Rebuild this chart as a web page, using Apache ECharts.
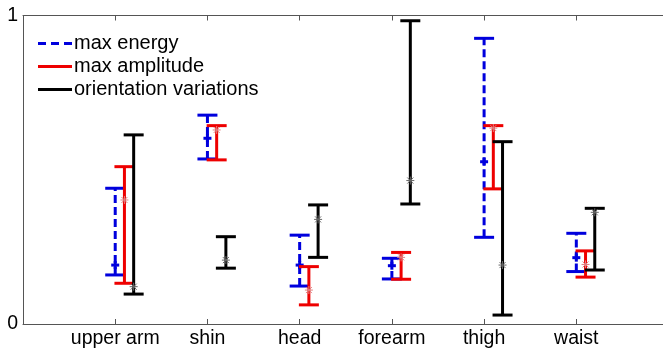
<!DOCTYPE html>
<html>
<head>
<meta charset="utf-8">
<script src="https://cdn.jsdelivr.net/npm/echarts@6/dist/echarts.min.js"></script>
<style>
    html, body { margin: 0; padding: 0; background: #fff; }
    #chart { width: 663px; height: 349px; }
</style>
</head>
<body>
<div id="chart"></div>
<script>
var categories = ['upper arm', 'shin', 'head', 'forearm', 'thigh', 'waist'];

// max energy (blue, dashed)
var energyLow  = [0.159, 0.535, 0.123, 0.146, 0.281, 0.170];
var energyMid  = [0.191, 0.602, 0.191, 0.189, 0.526, 0.215];
var energyHigh = [0.440, 0.677, 0.288, 0.213, 0.926, 0.294];

// max amplitude (red)
var amplitudeLow  = [0.132, 0.532, 0.062, 0.145, 0.438, 0.152];
var amplitudeMid  = [0.402, 0.629, 0.110, 0.216, 0.635, 0.193];
var amplitudeHigh = [0.510, 0.643, 0.186, 0.232, 0.643, 0.237];

// orientation variations (black)
var orientLow  = [0.097, 0.181, 0.216, 0.389, 0.029, 0.175];
var orientMid  = [0.121, 0.207, 0.339, 0.465, 0.191, 0.362];
var orientHigh = [0.613, 0.283, 0.386, 0.983, 0.591, 0.375];

var yTicks = ['0', '1'];

var FONT = '"Liberation Sans", Arial, sans-serif';

function buildData(low, mid, high, shift) {
    var out = [];
    for (var i = 0; i < categories.length; i++) {
        out.push([i + 1 + shift, low[i], mid[i], high[i]]);
    }
    return out;
}

function errorBarRenderer(opts) {
    return function (params, api) {
        var x = api.value(0);
        var lo = api.coord([x, api.value(1)]);
        var md = api.coord([x, api.value(2)]);
        var hi = api.coord([x, api.value(3)]);
        var cap = 10;
        var children = [
            {
                type: 'line',
                shape: { x1: lo[0], y1: lo[1], x2: hi[0], y2: hi[1] },
                style: { stroke: opts.color, lineWidth: 3, lineDash: opts.dash || null }
            },
            {
                type: 'line',
                shape: { x1: lo[0] - cap, y1: lo[1], x2: lo[0] + cap, y2: lo[1] },
                style: { stroke: opts.color, lineWidth: 3 }
            },
            {
                type: 'line',
                shape: { x1: hi[0] - cap, y1: hi[1], x2: hi[0] + cap, y2: hi[1] },
                style: { stroke: opts.color, lineWidth: 3 }
            }
        ];
        if (opts.plus) {
            children.push({
                type: 'line',
                shape: { x1: md[0] - 4, y1: md[1], x2: md[0] + 4, y2: md[1] },
                style: { stroke: opts.color, lineWidth: 3 }
            });
            children.push({
                type: 'line',
                shape: { x1: md[0], y1: md[1] - 4, x2: md[0], y2: md[1] + 4 },
                style: { stroke: opts.color, lineWidth: 3 }
            });
        } else {
            var s = 4;
            var d = 3;
            children.push(
                { type: 'line', shape: { x1: md[0] - s, y1: md[1], x2: md[0] + s, y2: md[1] },
                  style: { stroke: opts.markColor, lineWidth: 1 } },
                { type: 'line', shape: { x1: md[0], y1: md[1] - s, x2: md[0], y2: md[1] + s },
                  style: { stroke: opts.markColor, lineWidth: 1 } },
                { type: 'line', shape: { x1: md[0] - d, y1: md[1] - d, x2: md[0] + d, y2: md[1] + d },
                  style: { stroke: opts.markColor, lineWidth: 1 } },
                { type: 'line', shape: { x1: md[0] - d, y1: md[1] + d, x2: md[0] + d, y2: md[1] - d },
                  style: { stroke: opts.markColor, lineWidth: 1 } }
            );
        }
        return { type: 'group', children: children };
    };
}

var chart = echarts.init(document.getElementById('chart'));

var axisLineStyle = { color: '#555', width: 1 };

// the original figure is cropped just short of x = 7
var xMax = 6.94;

chart.setOption({
    animation: false,
    backgroundColor: '#fff',
    grid: { left: 23, right: 0, top: 15.5, bottom: 25, outerBoundsMode: 'none' },
    legend: {
        orient: 'vertical',
        left: 38,
        top: 32,
        itemWidth: 34,
        itemHeight: 3,
        itemGap: 0,
        padding: 0,
        selectedMode: false,
        textStyle: { fontFamily: FONT, fontSize: 20, color: '#000', lineHeight: 23, padding: [0, 0, 0, -3] },
        data: [
            { name: 'max energy', icon: 'path://M0,0h8v3h-8z M13,0h8v3h-8z M26,0h8v3h-8z' },
            { name: 'max amplitude', icon: 'rect' },
            { name: 'orientation variations', icon: 'rect' }
        ]
    },
    xAxis: [
        {
            type: 'value',
            min: 0,
            max: xMax,
            interval: 1,
            position: 'bottom',
            splitLine: { show: false },
            axisLine: { lineStyle: axisLineStyle },
            axisTick: { inside: true, length: 5, lineStyle: axisLineStyle,
                        customValues: [1, 2, 3, 4, 5, 6] },
            axisLabel: {
                margin: 5,
                fontFamily: FONT,
                fontSize: 19.5,
                color: '#000',
                formatter: function (v) {
                    return categories[v - 1] || '';
                }
            }
        },
        {
            type: 'value',
            min: 0,
            max: xMax,
            interval: 1,
            position: 'top',
            splitLine: { show: false },
            axisLine: { lineStyle: axisLineStyle },
            axisTick: { inside: true, length: 5, lineStyle: axisLineStyle,
                        customValues: [1, 2, 3, 4, 5, 6] },
            axisLabel: { show: false }
        }
    ],
    yAxis: {
        type: 'value',
        min: 0,
        max: 1,
        interval: 1,
        splitLine: { show: false },
        axisLine: { show: true, lineStyle: axisLineStyle },
        axisTick: { show: false },
        axisLabel: {
            margin: 5,
            fontFamily: FONT,
            fontSize: 19.5,
            color: '#000',
            formatter: function (v) {
                return yTicks[v];
            }
        }
    },
    series: [
        {
            name: 'max energy',
            type: 'custom',
            itemStyle: { color: '#0000dd' },
            clip: false,
            renderItem: errorBarRenderer({ color: '#0000dd', dash: [8, 4], plus: true }),
            encode: { x: 0, y: [1, 2, 3] },
            data: buildData(energyLow, energyMid, energyHigh, 0)
        },
        {
            name: 'max amplitude',
            type: 'custom',
            itemStyle: { color: '#ee0000' },
            clip: false,
            renderItem: errorBarRenderer({ color: '#ee0000', markColor: '#e08080' }),
            encode: { x: 0, y: [1, 2, 3] },
            data: buildData(amplitudeLow, amplitudeMid, amplitudeHigh, 0.1)
        },
        {
            name: 'orientation variations',
            type: 'custom',
            itemStyle: { color: '#000' },
            clip: false,
            renderItem: errorBarRenderer({ color: '#000', markColor: '#666' }),
            encode: { x: 0, y: [1, 2, 3] },
            data: buildData(orientLow, orientMid, orientHigh, 0.2)
        }
    ]
});
</script>
</body>
</html>
